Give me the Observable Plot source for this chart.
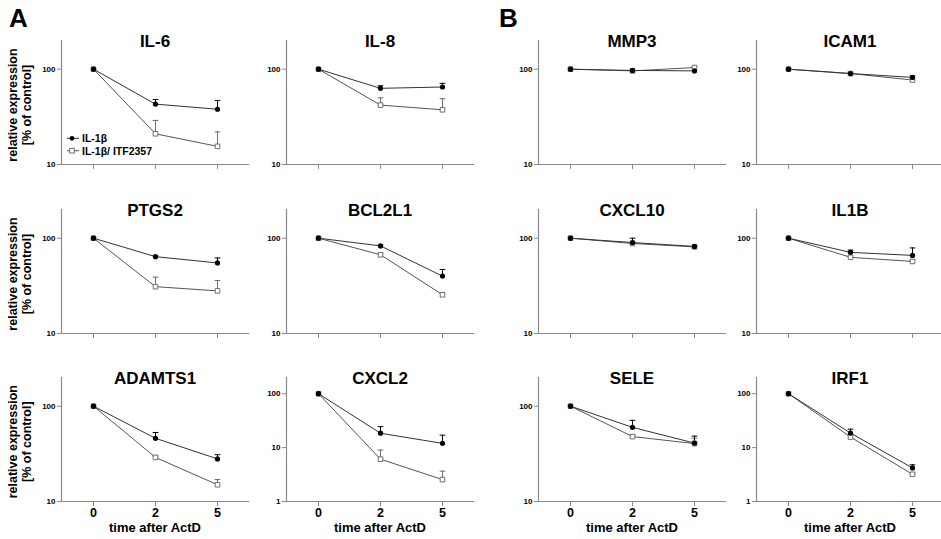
<!DOCTYPE html>
<html><head><meta charset="utf-8">
<script src="https://cdn.jsdelivr.net/npm/d3@7"></script>
<script src="https://cdn.jsdelivr.net/npm/@observablehq/plot@0.6"></script>
<style>
body{margin:0;background:#fff;overflow:hidden}
#c{position:relative;width:941px;height:539px;overflow:hidden;font-family:"Liberation Sans",Arial,sans-serif;background:#fff}
#c svg.panel{position:absolute}
</style>
</head><body><div id="c"></div>
<script>
const times = ["0", "2", "5"];
const genes = ["IL-6","IL-8","MMP3","ICAM1","PTGS2","BCL2L1","CXCL10","IL1B","ADAMTS1","CXCL2","SELE","IRF1"];
const yMin = [10,10,10,10, 10,10,10,10, 10,1,10,1];
const yTicks = [[10,100],[10,100],[10,100],[10,100],[10,100],[10,100],[10,100],[10,100],[10,100],[1,10,100],[10,100],[1,10,100]];
// IL-1β (filled circles)
const il1bMean = [[100,43,38],[100,63,65],[100,97,96],[100,90,82],[100,64,55],[100,83,40],[100,90,82],[100,71,66],[100,46,28],[100,18.5,12],[100,60,41],[100,18.6,4.2]];
const il1bUpper = [[100,48,47],[100,67,71],[100,97,96],[100,91,85],[100,65,62],[100,85,47],[100,100,83],[100,75,79],[100,53,31],[100,24.5,17],[100,71,48.5],[100,22,4.8]];
// IL-1β / ITF2357 (open squares)
const itfMean = [[100,21,15.5],[100,42,37.5],[100,96,104],[100,90,77],[100,31,28],[100,67,25.5],[100,88,81],[100,63,57],[100,29,15],[100,6.1,2.55],[100,48,40.5],[100,15.7,3.2]];
const itfUpper = [[100,29,22],[100,50,49],[100,96,106],[100,90,77],[100,39,36],[100,69,26.5],[100,88,81],[100,65,59],[100,30,17],[100,9,3.65],[100,50,46],[100,18,3.4]];
const seriesNames = ["IL-1β", "IL-1β/ ITF2357"];
const xLabel = "time after ActD";
const yLabelLines = ["relative expression", "[% of control]"];
const panelLetters = ["A", "B"];

const axisXs = [61, 285.5, 537.5, 756];
const frameTops = [40, 209, 376.7];
const ML = 40, MR = 6, MT = 30, FW = 187, FH = 124;
const circleColor = "#000", squareColor = "#6e6e6e", axisColor = "#8a8a8a";

const cap = {draw(ctx, size){ const w = Math.sqrt(size)/2; ctx.moveTo(-w,0); ctx.lineTo(w,0); }};

const c = document.getElementById("c");

genes.forEach((g, i) => {
  const row = Math.floor(i/4), col = i % 4;
  const bottom = row === 2;
  const MB = bottom ? 38 : 8;
  const a = times.map((t, k) => ({time: t, mean: il1bMean[i][k], upper: il1bUpper[i][k]}));
  const b = times.map((t, k) => ({time: t, mean: itfMean[i][k], upper: itfUpper[i][k]}));
  const aErr = a.filter(d => d.upper > d.mean * 1.01);
  const bErr = b.filter(d => d.upper > d.mean * 1.01);
  const marks = [
    Plot.frame({anchor: "left", stroke: axisColor, strokeWidth: 1.2}),
    Plot.frame({anchor: "bottom", stroke: axisColor, strokeWidth: 1.2}),
    Plot.axisY({ticks: yTicks[i], tickFormat: d => String(d), tickSize: 4, tickPadding: 2, fontSize: 8, fontWeight: "bold", stroke: axisColor, label: null}),
    bottom
      ? Plot.axisX({tickSize: 5, tickPadding: 2, fontSize: 12.5, fontWeight: "bold", stroke: axisColor, label: null})
      : Plot.axisX({tickSize: 5, tickFormat: () => "", stroke: axisColor, label: null}),
    Plot.ruleX(bErr, {x: "time", y1: "mean", y2: "upper", stroke: squareColor, strokeWidth: 1}),
    Plot.dot(bErr, {x: "time", y: "upper", symbol: cap, r: 3.2, stroke: squareColor, fill: "none", strokeWidth: 1}),
    Plot.ruleX(aErr, {x: "time", y1: "mean", y2: "upper", stroke: circleColor, strokeWidth: 1}),
    Plot.dot(aErr, {x: "time", y: "upper", symbol: cap, r: 3.2, stroke: circleColor, fill: "none", strokeWidth: 1}),
    Plot.line(b, {x: "time", y: "mean", stroke: "#555", strokeWidth: 1}),
    Plot.line(a, {x: "time", y: "mean", stroke: "#333", strokeWidth: 1}),
    Plot.dot(b, {x: "time", y: "mean", symbol: "square", r: 2.6, stroke: squareColor, fill: "#fff", strokeWidth: 1}),
    Plot.dot(a, {x: "time", y: "mean", r: 2.6, fill: circleColor, stroke: "none"}),
    Plot.text([g], {frameAnchor: "top", dy: -6, fontSize: 17, fontWeight: "bold", fill: "#000"})
  ];
  if (bottom) marks.push(Plot.text([xLabel], {frameAnchor: "bottom", dy: 30, fontSize: 13, fontWeight: "bold", fill: "#000"}));
  const svg = Plot.plot({
    width: ML + FW + MR, height: MT + FH + MB,
    marginLeft: ML, marginRight: MR, marginTop: MT, marginBottom: MB,
    style: {fontFamily: '"Liberation Sans", Arial, sans-serif', background: "transparent", overflow: "visible"},
    x: {type: "point", domain: times, padding: 0.5},
    y: {type: "log", domain: [yMin[i], 200]},
    marks
  });
  svg.classList.add("panel");
  svg.style.left = (axisXs[col] - ML) + "px";
  svg.style.top = (frameTops[row] - MT) + "px";
  c.appendChild(svg);
});

// overlay: panel letters, y labels, legend
const ov = d3.select(c).append("svg").attr("width", 941).attr("height", 539)
  .style("position", "absolute").style("left", 0).style("top", 0)
  .style("font-family", '"Liberation Sans", Arial, sans-serif').style("pointer-events", "none");
ov.append("text").attr("x", 9).attr("y", 27).attr("font-size", 26).attr("font-weight", "bold").text(panelLetters[0]);
ov.append("text").attr("x", 499).attr("y", 27).attr("font-size", 26).attr("font-weight", "bold").text(panelLetters[1]);
frameTops.forEach(t => {
  const cy = t + FH/2 + 3;
  yLabelLines.forEach((s, j) => {
    ov.append("text").attr("transform", `translate(${13 + j*14},${cy}) rotate(-90)`)
      .attr("text-anchor", "middle").attr("dominant-baseline", "central")
      .attr("font-size", 12.5).attr("font-weight", "bold").text(s);
  });
});
const lg = ov.append("g");
[[138.3, "circle"], [150.7, "square"]].forEach(([y, kind], j) => {
  lg.append("line").attr("x1", 67).attr("x2", 79).attr("y1", y).attr("y2", y)
    .attr("stroke", kind === "circle" ? "#333" : "#555");
  if (kind === "circle") lg.append("circle").attr("cx", 72).attr("cy", y).attr("r", 2.4).attr("fill", "#000");
  else lg.append("rect").attr("x", 69.7).attr("y", y-2.3).attr("width", 4.6).attr("height", 4.6).attr("fill", "#fff").attr("stroke", squareColor);
  lg.append("text").attr("x", 82).attr("y", y).attr("dominant-baseline", "central")
    .attr("font-size", 10.5).attr("font-weight", "bold").text(seriesNames[j]);
});
</script></body></html>
